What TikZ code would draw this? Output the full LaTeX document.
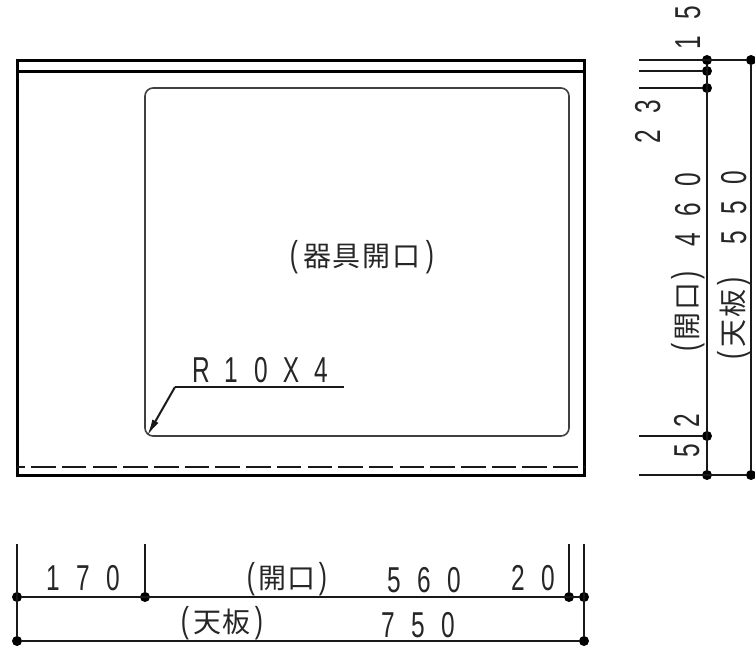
\documentclass[tikz,border=0pt]{standalone}
\usepackage{fontspec}
\usetikzlibrary{arrows.meta}
\setmainfont[FakeStretch=0.68]{Liberation Sans}
\newfontfamily\cjk{Noto Sans CJK JP}
\makeatletter
\newcommand\spc[2]{\@tfor\ch:=#2\do{\makebox[#1][c]{\ch}}}
\makeatother
\newcommand\dg[1]{\fontsize{36}{36}\selectfont\spc{30pt}{#1}}
\newcommand\jp[2]{\fontsize{36}{36}\selectfont\makebox[#1][c]{(}{\cjk\fontsize{28}{28}\selectfont\spc{30pt}{#2}}\makebox[#1][c]{)}}
\tikzset{
  dimtext/.style={inner sep=0pt,anchor=base,text=black!85},
  vtext/.style={dimtext,rotate=90},
  heavy/.style={line width=3pt,draw=black},
  thin outline/.style={line width=1.6pt,draw=black!75},
  dimline/.style={line width=2pt,draw=black!90},
  dot/.style={circle,fill=black,inner sep=0pt,minimum size=10pt}
}
\begin{document}
\begin{tikzpicture}[x=1pt,y=-1pt]
\useasboundingbox (0,0) rectangle (755,648);
% plate
\draw[heavy] (17,60) rectangle (584,475);
\draw[heavy] (17,71) -- (584,71);
\draw[dimline,dash pattern=on 24.5pt off 6.2pt,dash phase=16.5pt] (17,467) -- (584,467);
\draw[thin outline,rounded corners=8pt] (145,88) rectangle (569,436);
\node[dimtext] (openlabel) at (362,266) {\jp{16pt}{器具開口}};
% leader
\coordinate (ls) at (344,387);
\coordinate (lk) at (175,387);
\coordinate (lt) at (147,436);
\draw[dimline] (ls) -- (lk);
\draw[dimline,-{Latex[length=17pt,width=7pt]}] (lk) -- (lt);
\node[dimtext] (rlabel) at (261,382) {\dg{R10X4}};
% right dimension dots
\node[dot] (ra) at (707,60) {};
\node[dot] (rb) at (707,71) {};
\node[dot] (rc) at (707,88) {};
\node[dot] (rd) at (707,436) {};
\node[dot] (re) at (707,475) {};
\node[dot] (ta) at (751,60) {};
\node[dot] (te) at (751,475) {};
\coordinate (xa) at (639,60);
\coordinate (xb) at (639,71);
\coordinate (xc) at (639,88);
\coordinate (xd) at (639,436);
\coordinate (xe) at (639,475);
\draw[dimline] (xa) -- (ta);
\draw[dimline] (xb) -- (rb);
\draw[dimline] (xc) -- (rc);
\draw[dimline] (xd) -- (rd);
\draw[dimline] (xe) -- (te);
\draw[dimline] (ra) -- (re);
\draw[dimline] (ta) -- (te);
% bottom dimension dots
\node[dot] (ba) at (17,597) {};
\node[dot] (bb) at (145,597) {};
\node[dot] (bc) at (569,597) {};
\node[dot] (bd) at (584,597) {};
\node[dot] (ca) at (17,641) {};
\node[dot] (cd) at (584,641) {};
\coordinate (ya) at (17,544);
\coordinate (yb) at (145,544);
\coordinate (yc) at (569,544);
\coordinate (yd) at (584,544);
\draw[dimline] (ya) -- (ca);
\draw[dimline] (yb) -- (bb);
\draw[dimline] (yc) -- (bc);
\draw[dimline] (yd) -- (cd);
\draw[dimline] (ba) -- (bd);
\draw[dimline] (ca) -- (cd);
% bottom labels
\node[dimtext] (t170) at (83,590) {\dg{170}};
\node[dimtext] (topen) at (287,588) {\jp{12pt}{開口}};
\node[dimtext] (t560) at (424,592) {\dg{560}};
\node[dimtext] (t20) at (533,590) {\dg{20}};
\node[dimtext] (ttop) at (222,632) {\jp{14pt}{天板}};
\node[dimtext] (t750) at (418,637) {\dg{750}};
% right labels
\node[vtext] (t15) at (700,28) {\dg{15}};
\node[vtext] (t23) at (660,122) {\dg{23}};
\node[vtext] (t460) at (700,210) {\dg{460}};
\node[vtext] (t550) at (746,208) {\dg{550}};
\node[vtext] (t52) at (699,436) {\dg{52}};
\node[vtext] (vopen) at (697,311) {\jp{12pt}{開口}};
\node[vtext] (vtop) at (743,318) {\jp{14pt}{天板}};
\end{tikzpicture}
\end{document}
